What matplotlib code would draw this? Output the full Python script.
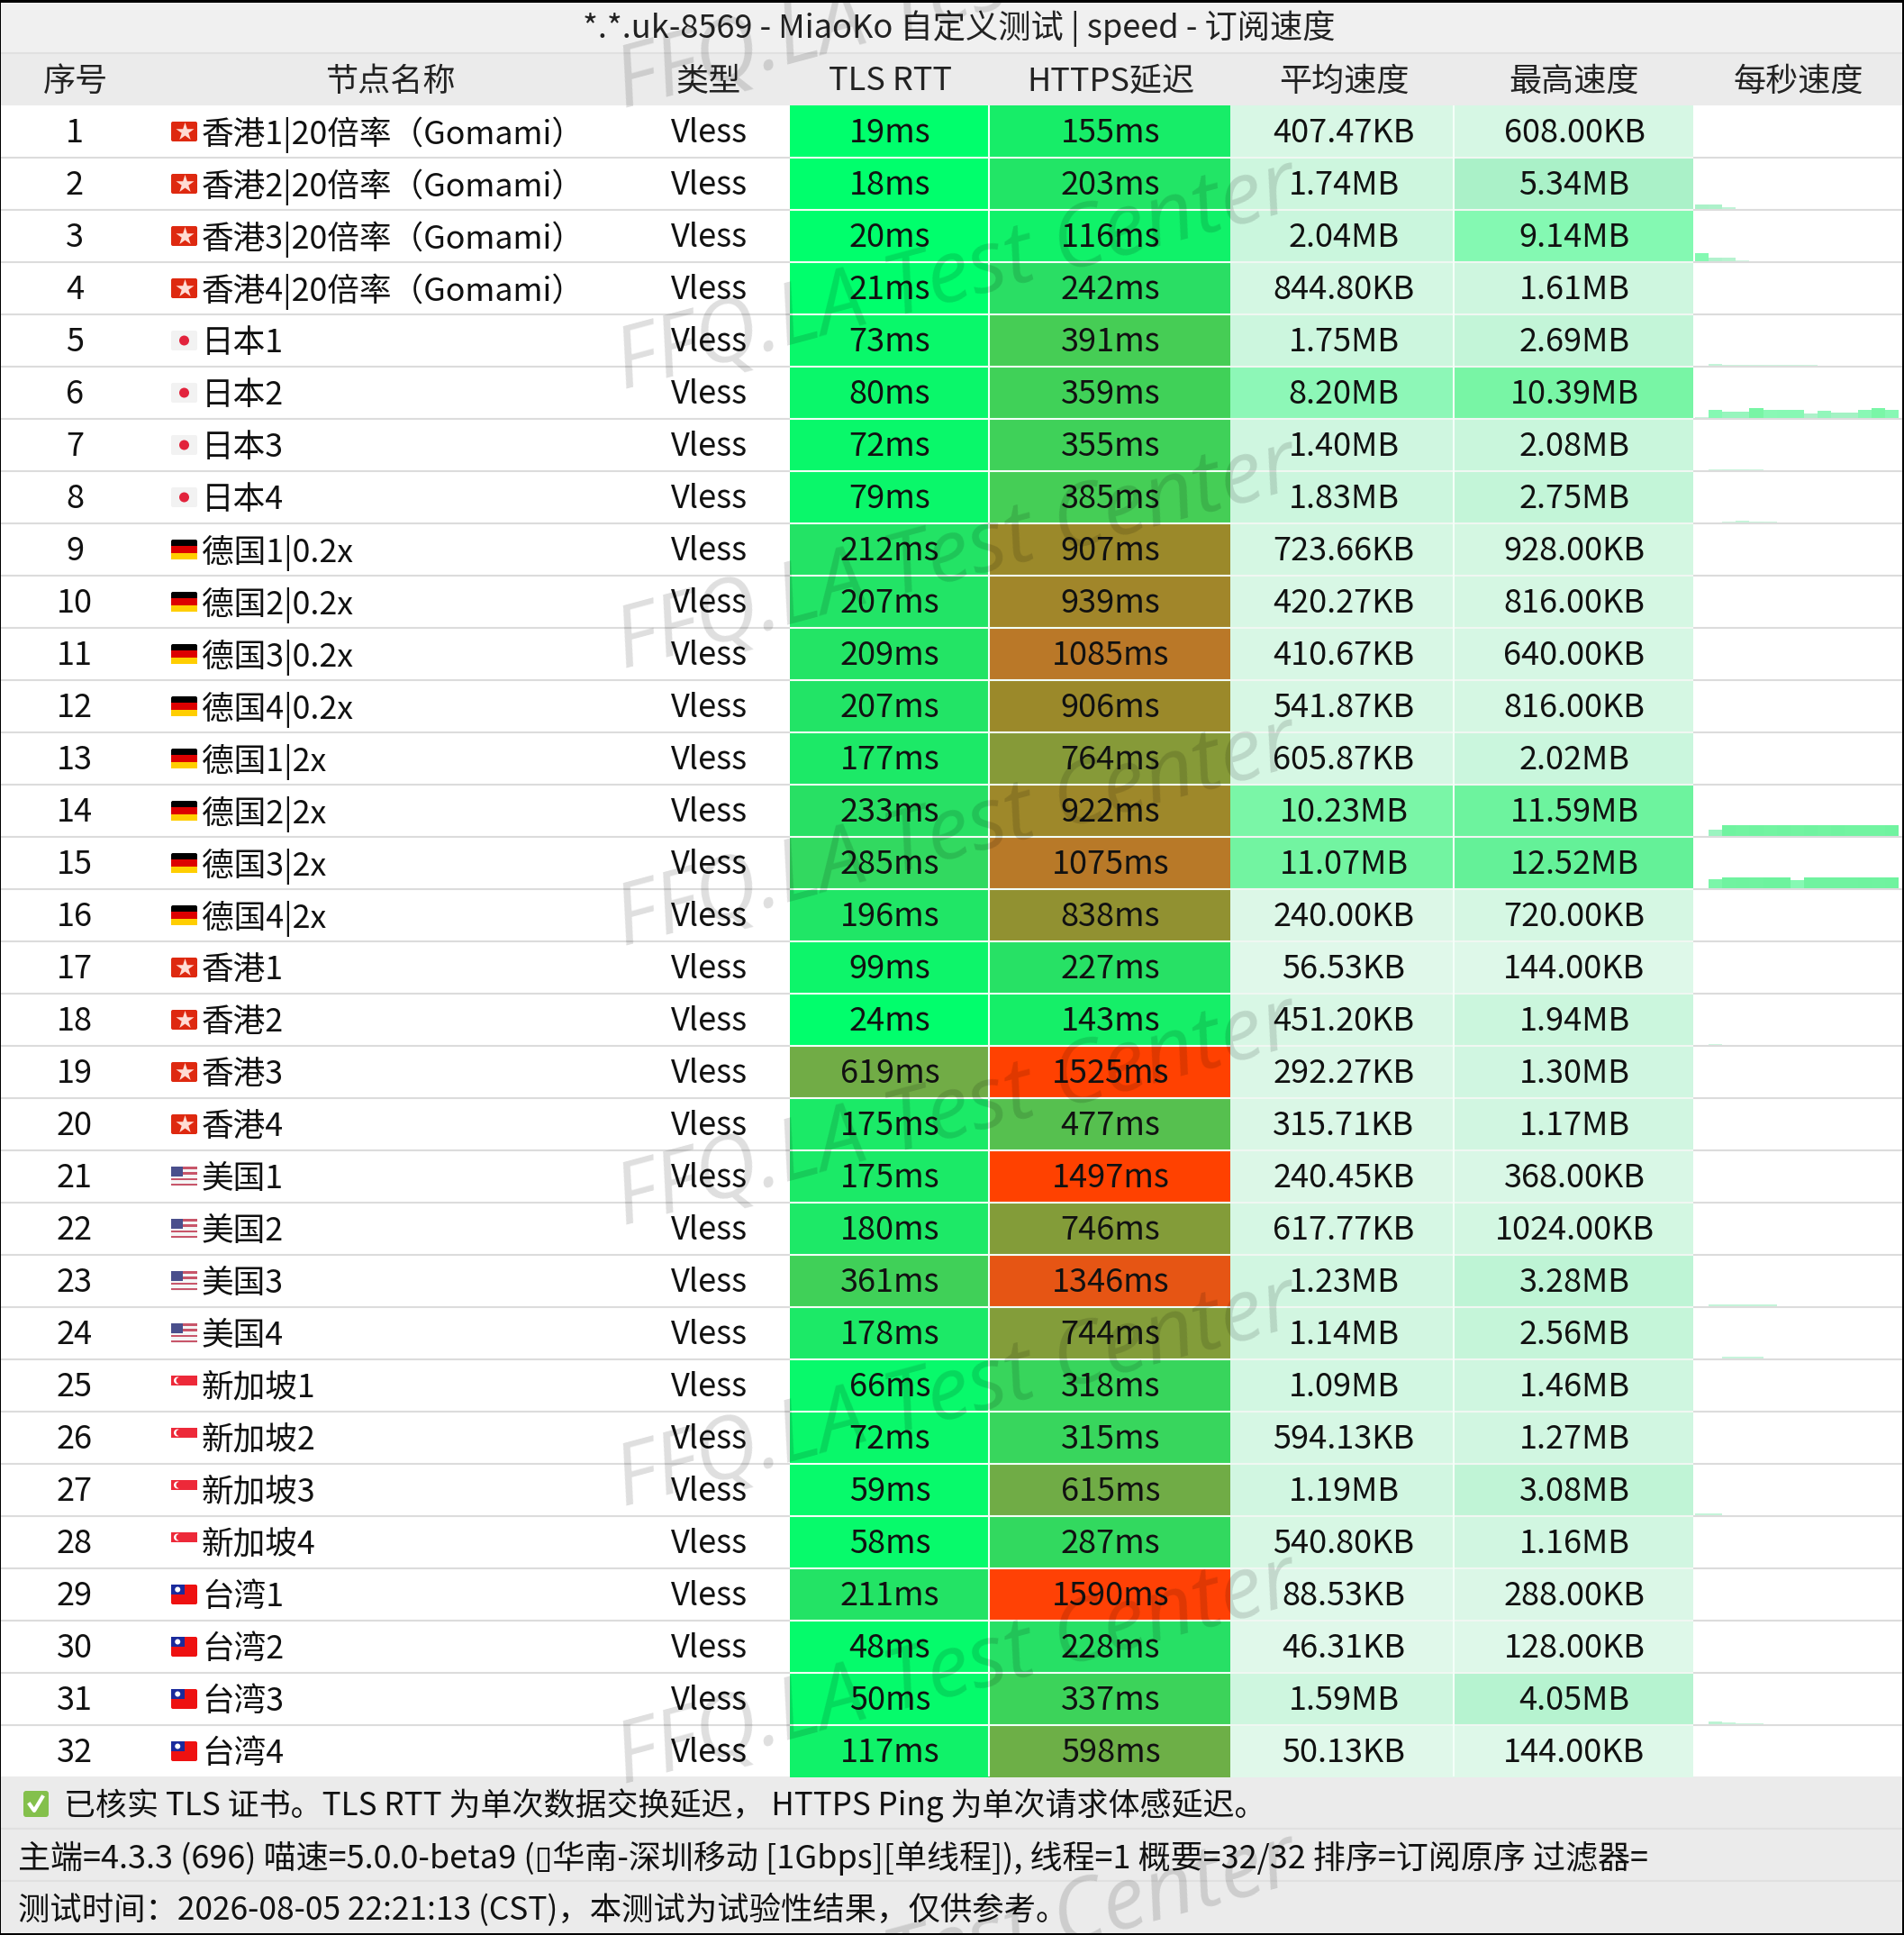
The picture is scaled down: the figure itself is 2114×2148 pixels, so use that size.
import matplotlib
matplotlib.use('Agg')
import matplotlib.pyplot as plt
from matplotlib.patches import FancyBboxPatch, Circle, Rectangle
import numpy as np

plt.rcParams['font.family'] = ['Noto Sans CJK SC', 'DejaVu Sans']

# chart data
title = '*.*.uk-8569 - MiaoKo 自定义测试 | speed - 订阅速度'
headers = ['序号', '节点名称', '类型', 'TLS RTT', 'HTTPS延迟', '平均速度', '最高速度', '每秒速度']
names = ['香港1|20倍率（Gomami）', '香港2|20倍率（Gomami）', '香港3|20倍率（Gomami）', '香港4|20倍率（Gomami）',
         '日本1', '日本2', '日本3', '日本4',
         '德国1|0.2x', '德国2|0.2x', '德国3|0.2x', '德国4|0.2x',
         '德国1|2x', '德国2|2x', '德国3|2x', '德国4|2x',
         '香港1', '香港2', '香港3', '香港4',
         '美国1', '美国2', '美国3', '美国4',
         '新加坡1', '新加坡2', '新加坡3', '新加坡4',
         '台湾1', '台湾2', '台湾3', '台湾4']
flags = ['hk'] * 4 + ['jp'] * 4 + ['de'] * 8 + ['hk'] * 4 + ['us'] * 4 + ['sg'] * 4 + ['tw'] * 4
tls_rtt = [19, 18, 20, 21, 73, 80, 72, 79, 212, 207, 209, 207, 177, 233, 285, 196,
           99, 24, 619, 175, 175, 180, 361, 178, 66, 72, 59, 58, 211, 48, 50, 117]
https_ping = [155, 203, 116, 242, 391, 359, 355, 385, 907, 939, 1085, 906, 764, 922, 1075, 838,
              227, 143, 1525, 477, 1497, 746, 1346, 744, 318, 315, 615, 287, 1590, 228, 337, 598]
avg_speed = ['407.47KB', '1.74MB', '2.04MB', '844.80KB', '1.75MB', '8.20MB', '1.40MB', '1.83MB',
             '723.66KB', '420.27KB', '410.67KB', '541.87KB', '605.87KB', '10.23MB', '11.07MB', '240.00KB',
             '56.53KB', '451.20KB', '292.27KB', '315.71KB', '240.45KB', '617.77KB', '1.23MB', '1.14MB',
             '1.09MB', '594.13KB', '1.19MB', '540.80KB', '88.53KB', '46.31KB', '1.59MB', '50.13KB']
max_speed = ['608.00KB', '5.34MB', '9.14MB', '1.61MB', '2.69MB', '10.39MB', '2.08MB', '2.75MB',
             '928.00KB', '816.00KB', '640.00KB', '816.00KB', '2.02MB', '11.59MB', '12.52MB', '720.00KB',
             '144.00KB', '1.94MB', '1.30MB', '1.17MB', '368.00KB', '1024.00KB', '3.28MB', '2.56MB',
             '1.46MB', '1.27MB', '3.08MB', '1.16MB', '288.00KB', '128.00KB', '4.05MB', '144.00KB']
# per second speed in MB, only rows where something is visible
spark_rows = {
    2: [5.3, 5.0, 3.0, 1.2, 1.2, 0.4, 0.4, 0.1, 0.4, 0.4],
    3: [9.1, 4.6, 4.0, 1.6, 0.5, 0.3, 0.3, 0.2, 0.2, 0.2, 0.2, 0.3, 0.3, 0.2, 0.2, 0.2],
    4: [0.1, 0.1, 0.1, 0.1, 0.1, 0.1, 0.8, 0.8, 0.8, 0.8, 0.2, 1.0, 0.3, 0.3, 0.3, 0.3],
    5: [1.2, 2.7, 1.8, 1.8, 1.6, 1.4, 1.6, 1.6, 1.4, 1.2, 0.6, 0.4, 0.4, 0.4, 0.4, 0.4],
    6: [2.0, 9.0, 7.2, 7.2, 10.4, 8.6, 8.8, 8.8, 5.0, 7.6, 6.0, 6.0, 8.6, 10.2, 8.8, 8.8],
    7: [1.0, 1.6, 2.0, 2.0, 1.6, 1.2, 0.8, 0.6, 0.6, 0.6, 0.4, 0.4, 0.4, 0.4, 0.4, 0.4],
    8: [0.6, 1.0, 1.4, 2.4, 2.0, 1.6, 1.2, 1.0, 0.6, 0.6, 0.6, 1.0, 0.6, 0.4, 0.4, 0.4],
    9: [0.3, 0.3, 0.7, 0.7, 0.3, 0.3, 0.3, 0.3, 0.3, 0.3, 0.3, 0.3, 0.3, 0.3, 0.3, 0.3],
    13: [0.2, 0.2, 0.2, 0.2, 0.2, 0.2, 0.2, 0.2, 0.2, 0.2, 0.2, 0.2, 0.2, 0.2, 1.0, 1.6],
    14: [0.1, 6.8, 11.2, 11.0, 11.2, 11.0, 11.2, 11.0, 11.2, 11.0, 11.2, 11.0, 11.0, 11.0, 11.2, 11.0],
    15: [0.1, 10.0, 11.2, 11.4, 11.2, 11.6, 11.6, 9.0, 11.2, 11.2, 11.2, 11.2, 11.4, 11.2, 11.4, 11.8],
    18: [1.2, 1.6, 1.0, 0.3, 0.3],
    19: [1.0, 0.2, 0.2],
    20: [0.9, 0.2, 0.2],
    22: [0.2, 0.2, 0.2, 0.8, 0.8],
    23: [0.2, 2.6, 2.6, 2.6, 2.6, 2.6, 0.6],
    24: [0.2, 0.6, 2.2, 2.2, 2.2, 0.8, 0.6, 0.6, 0.6, 0.6],
    26: [0.2, 0.8],
    27: [2.6, 2.6, 0.4, 0.2, 0.2, 0.4, 0.4, 0.4, 0.4, 0.4, 0.4, 0.3],
    28: [0.9, 0.9],
    31: [0.2, 3.6, 2.4, 1.8, 1.8, 0.6, 0.4, 0.4, 0.4, 0.4, 0.4, 0.3],
}
note_line = '已核实 TLS 证书。TLS RTT 为单次数据交换延迟， HTTPS Ping 为单次请求体感延迟。'
info_line = '主端=4.3.3 (696) 喵速=5.0.0-beta9 (\u25af华南-深圳移动 [1Gbps][单线程]), 线程=1 概要=32/32 排序=订阅原序 过滤器='
time_line = '测试时间：2026-08-05 22:21:13 (CST)，本测试为试验性结果，仅供参考。'

# colour stops
ping_stops = [0, 19, 150, 242, 391, 615, 907, 1085, 1346, 1497, 1600]
ping_rgb = [(0, 255, 110), (0, 255, 108), (22, 238, 104), (42, 222, 100), (70, 205, 85), (112, 172, 70),
            (155, 137, 42), (186, 120, 40), (230, 85, 20), (255, 65, 0), (255, 65, 5)]
speed_stops = [0, 0.4, 1.8, 5.34, 9.14, 10.39, 12.52]
speed_rgb = [(225, 248, 235), (216, 247, 229), (204, 246, 222), (170, 241, 200), (132, 249, 178), (120, 245, 165), (100, 241, 152)]


def pick_color(value, stops, rgb):
    return tuple(np.interp(value, stops, [c[i] for c in rgb]) / 255 for i in range(3))


def to_mb(text):
    if text.endswith('KB'):
        return float(text[:-2]) / 1024
    return float(text[:-2])


TEXT_SIZE = 26
ROW_H = 58
TOP = 117
n_rows = len(names)
row_y = TOP + ROW_H * (np.arange(n_rows) + 0.5)
col_left = [877, 1098, 1366, 1614, 1880]
col_right = [1098, 1366, 1614, 1880, 2112]

fig = plt.figure(figsize=(21.14, 21.48), dpi=100, facecolor='black')
ax = fig.add_axes([0, 0, 1, 1])
ax.set_xlim(0, 2114)
ax.set_ylim(2148, 0)
ax.axis('off')

# panel, title, header and footer backgrounds
ax.add_patch(Rectangle((1, 3), 2111, 2143, fc='white', ec='none', zorder=0))
ax.add_patch(Rectangle((1, 3), 2111, 56, fc='#f0f0f0', ec='none', zorder=1))
ax.add_patch(Rectangle((1, 59), 2111, 58, fc='#ebebeb', ec='none', zorder=1))
ax.add_patch(Rectangle((1, 1972), 2111, 174, fc='#ebebeb', ec='none', zorder=1))
ax.hlines([59, 2030, 2088], 1, 2112, color='#e0e0e0', lw=1.5, zorder=2)

# coloured cells
ax.barh(row_y, col_right[0] - col_left[0], left=col_left[0], height=ROW_H, zorder=1,
        color=[pick_color(v, ping_stops, ping_rgb) for v in tls_rtt])
ax.barh(row_y, col_right[1] - col_left[1], left=col_left[1], height=ROW_H, zorder=1,
        color=[pick_color(v, ping_stops, ping_rgb) for v in https_ping])
ax.barh(row_y, col_right[2] - col_left[2], left=col_left[2], height=ROW_H, zorder=1,
        color=[pick_color(to_mb(v), speed_stops, speed_rgb) for v in avg_speed])
ax.barh(row_y, col_right[3] - col_left[3], left=col_left[3], height=ROW_H, zorder=1,
        color=[pick_color(to_mb(v), speed_stops, speed_rgb) for v in max_speed])

# per second sparklines, one bar per second
BAR_W = 15.1
PX_PER_MB = 1.15
for row, series in spark_rows.items():
    x = 1882 + BAR_W * (np.arange(len(series)) + 0.5)
    keep = x < 2112
    vals = np.array(series)[keep]
    ax.bar(x[keep], -vals * PX_PER_MB, width=BAR_W, bottom=TOP + ROW_H * row, zorder=1.5,
           color=[pick_color(v, speed_stops, speed_rgb) for v in vals])

# grid
grid_y = TOP + ROW_H * np.arange(1, n_rows)
ax.hlines(grid_y, 1, 877, color='#dcdcdc', lw=1.5, zorder=2)
ax.hlines(grid_y, 877, 1366, color='#f2fff6', lw=1.5, zorder=2)
ax.hlines(grid_y, 1366, 1880, color='#f0f7f2', lw=1.5, zorder=2)
ax.hlines(grid_y, 1880, 2112, color='#dcdcdc', lw=1.5, zorder=2)
ax.vlines([1098, 1614], TOP, 1972, color='#f4fff8', lw=1.5, zorder=2)


def draw_flag(kind, cy):
    x0, y0, w, h = 190, cy - 11, 29, 22
    box = FancyBboxPatch((x0 + 2, y0 + 2), w - 4, h - 4, boxstyle='round,pad=2', ec='none', zorder=3,
                         fc={'hk': '#de2910', 'jp': '#f2f2f2', 'de': '#000000', 'us': '#f5f5f5',
                             'sg': '#ffffff', 'tw': '#ee1111'}[kind])
    ax.add_patch(box)
    if kind == 'hk':
        ax.scatter(x0 + w / 2, cy, s=230, marker='*', color='#ffdcd4', zorder=4, linewidths=0)
    elif kind == 'jp':
        ax.add_patch(Circle((x0 + w / 2, cy), 5.5, fc='#e2233c', ec='none', zorder=4))
    elif kind == 'de':
        ax.add_patch(Rectangle((x0, y0 + h / 3), w, h / 3, fc='#dd0000', ec='none', zorder=4))
        ax.add_patch(Rectangle((x0, y0 + 2 * h / 3), w, h / 3, fc='#ffce00', ec='none', zorder=4))
    elif kind == 'us':
        for k in range(0, 7, 2):
            ax.add_patch(Rectangle((x0, y0 + k * h / 7), w, h / 7 * 0.8, fc='#c8566a', ec='none', zorder=4))
        ax.add_patch(Rectangle((x0, y0), w * 0.45, h * 0.52, fc='#4a4f8c', ec='none', zorder=5))
    elif kind == 'sg':
        ax.add_patch(Rectangle((x0, y0), w, h / 2, fc='#ed2939', ec='none', zorder=4))
        ax.add_patch(Circle((x0 + 7, y0 + h / 4), 4, fc='white', ec='none', zorder=5))
        ax.add_patch(Circle((x0 + 9, y0 + h / 4), 3.5, fc='#ed2939', ec='none', zorder=5))
    elif kind == 'tw':
        ax.add_patch(Rectangle((x0, y0), w * 0.5, h * 0.5, fc='#1a2a9c', ec='none', zorder=4))
        ax.add_patch(Circle((x0 + w * 0.25, y0 + h * 0.25), 3, fc='white', ec='none', zorder=5))


def cell_text(x, y, s, ha='center', color='#111111', size=TEXT_SIZE):
    ax.text(x, y - 1.5, s, ha=ha, va='center_baseline', fontsize=size, color=color, zorder=6)


# title and headers
cell_text(1065, 28, title, size=26.1, color='#222222')
header_x = [84, 433, 787, 988, 1233, 1492, 1748, 1997]
for x, label in zip(header_x, headers):
    cell_text(x, 88, label, color='#222222')

# rows
for i in range(n_rows):
    y = row_y[i]
    cell_text(83, y, str(i + 1))
    draw_flag(flags[i], y)
    cell_text(224, y, names[i], ha='left', size=25.7)
    cell_text(788, y, 'Vless')
    cell_text(988, y, f'{tls_rtt[i]}ms')
    cell_text(1233, y, f'{https_ping[i]}ms')
    cell_text(1492, y, avg_speed[i])
    cell_text(1748, y, max_speed[i])

# footer
ax.add_patch(FancyBboxPatch((29, 1991), 22, 23, boxstyle='round,pad=3', fc='#84c04c', ec='none', zorder=3))
ax.plot([33, 38, 47], [2003, 2010, 1995], color='white', lw=3, zorder=4)
cell_text(71, 2002, note_line, ha='left', size=25.2)
cell_text(20, 2060, info_line, ha='left', size=25.95)
cell_text(20, 2118, time_line, ha='left', size=25.45)

# repeated watermark
wm_base_y = [120, 432, 742, 1050, 1360, 1672, 1980, 2290]
for y in wm_base_y:
    ax.text(692, y, 'FFQ.LA Test Center', fontsize=69, family='Open Sans', style='italic', color='black', alpha=0.13,
            rotation=15, rotation_mode='anchor', ha='left', va='baseline', zorder=7, clip_on=True)

fig.savefig('out.png', dpi=100, facecolor='black')
